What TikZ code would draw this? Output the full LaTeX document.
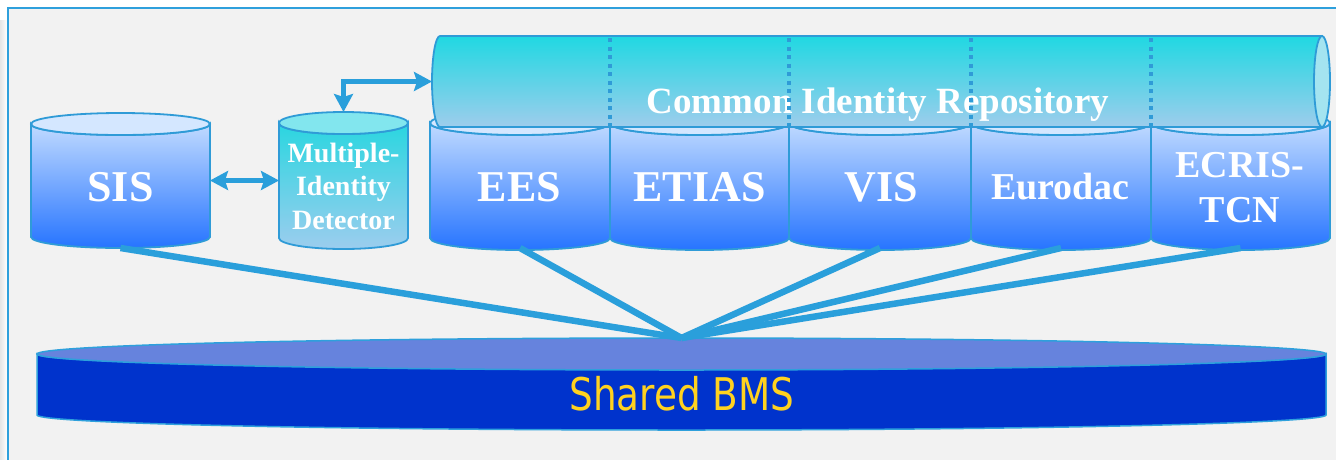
\documentclass[tikz,border=0pt]{standalone}
\usepackage{fontspec}
\usepackage{graphicx}
\setmainfont{Liberation Serif}
\newfontfamily\bmsfont{DejaVu Sans}
\usetikzlibrary{arrows.meta}
\definecolor{framebg}{HTML}{F2F2F2}
\definecolor{frameblue}{HTML}{2EA0DC}
\definecolor{cylstroke}{HTML}{2F9BD7}
\definecolor{connblue}{HTML}{2A9FDB}
\definecolor{bluetop}{HTML}{D4E7FF}
\definecolor{bluehi}{HTML}{C0DAFF}
\definecolor{bluelo}{HTML}{2674FF}
\definecolor{cyantop}{HTML}{82E6EE}
\definecolor{cyanhi}{HTML}{2AD6E0}
\definecolor{cyanlo}{HTML}{9CCDEE}
\definecolor{cirhi}{HTML}{20D8E2}
\definecolor{cirlo}{HTML}{9ECDEC}
\definecolor{circap}{HTML}{A4E4F0}
\definecolor{bmsbody}{HTML}{0033CC}
\definecolor{bmstop}{HTML}{6683DD}
\definecolor{bmsyellow}{HTML}{FFD21F}
\newcommand{\mycyl}[8]{%
  \pgfmathsetmacro{\myrx}{(#2-#1)/2}%
  \pgfmathsetmacro{\mycx}{(#1+#2)/2}%
  \path[cylline, top color=#7, bottom color=#8] (#1,#3) -- (#1,#4)
     arc[start angle=180, end angle=0, x radius=\myrx, y radius=#5] -- (#2,#3)
     arc[start angle=0, end angle=180, x radius=\myrx, y radius=#5] -- cycle;
  \path[cylline, fill=#6] (\mycx,#3) ellipse[x radius=\myrx, y radius=#5];
}
\begin{document}
\begin{tikzpicture}[x=1pt,y=-1pt,
  cylline/.style={draw=cylstroke, line width=1.8pt},
  box/.style={inner sep=0pt, outer sep=0pt, draw=none, rectangle},
  lbl/.style={text=white, font=\bfseries, inner sep=0pt, align=center},
  conn/.style={draw=connblue, line width=5pt,
     {Stealth[length=18pt,width=19pt,inset=3pt]}-{Stealth[length=18pt,width=19pt,inset=3pt]}},
  bmsline/.style={draw=connblue, line width=6.5pt}
]
\useasboundingbox (0,0) rectangle (1336,459);
\fill[white] (0,0) rectangle (1336,459);
\fill[left color=black!10, right color=white] (0,20) rectangle (7,459);
\fill[framebg] (8,8) rectangle (1340,463);
\draw[frameblue, line width=2pt] (8,463) -- (8,8) -- (1340,8);

% SIS and MID cylinders
\mycyl{31}{210}{124}{237}{11}{bluetop}{bluehi}{bluelo}
\mycyl{279}{408}{123}{238}{11}{cyantop}{cyanhi}{cyanlo}
\node[box, minimum width=179pt, minimum height=135pt] (sis) at (120.5,180.5) {};
\node[box, minimum width=129pt, minimum height=136pt] (mid) at (343.5,180) {};
\node[lbl, font=\fontsize{44}{48}\selectfont\bfseries] (sislabel) at (120.5,187.5) {SIS};
\node[lbl, font=\fontsize{28}{33.5}\selectfont\bfseries] (midlabel) at (343.5,186) {Multiple-\\Identity\\Detector};

% lower cylinders
\mycyl{430}{610}{123}{238}{12}{bluetop}{bluehi}{bluelo}
\mycyl{610}{789}{123}{238}{12}{bluetop}{bluehi}{bluelo}
\mycyl{789}{971}{123}{238}{12}{bluetop}{bluehi}{bluelo}
\mycyl{971}{1151}{123}{238}{12}{bluetop}{bluehi}{bluelo}
\mycyl{1151}{1330}{123}{238}{12}{bluetop}{bluehi}{bluelo}
\node[box, minimum width=180pt, minimum height=135pt] (ees) at (520,180.5) {};
\node[box, minimum width=179pt, minimum height=135pt] (etias) at (699.5,180.5) {};
\node[box, minimum width=182pt, minimum height=135pt] (vis) at (880,180.5) {};
\node[box, minimum width=180pt, minimum height=135pt] (eurodac) at (1061,180.5) {};
\node[box, minimum width=179pt, minimum height=135pt] (ecris) at (1240.5,180.5) {};
\node[lbl, font=\fontsize{44}{48}\selectfont\bfseries] (eeslabel) at (519.5,187) {EES};
\node[lbl, font=\fontsize{44}{48}\selectfont\bfseries] (etiaslabel) at (699.5,187) {ETIAS};
\node[lbl, font=\fontsize{44}{48}\selectfont\bfseries] (vislabel) at (881,187) {VIS};
\node[lbl, font=\fontsize{38}{45}\selectfont\bfseries] (eurodaclabel) at (1060.5,187) {Eurodac};
\node[lbl, font=\fontsize{38}{45}\selectfont\bfseries] (ecrislabel) at (1240,188) {ECRIS-\\TCN};

% Common Identity Repository (horizontal cylinder)
\path[cylline, top color=cirhi, bottom color=cirlo]
  (440,36) -- (1322,36) -- (1322,127) -- (440,127)
  arc[start angle=90, end angle=270, x radius=8, y radius=45.5] -- cycle;
\node[box, minimum width=898pt, minimum height=91pt] (cir) at (881,81.5) {};
\node[lbl, anchor=base, font=\fontsize{37}{44}\selectfont\bfseries] (cirlabel) at (878,113) {Common Identity Repository};
\foreach \dx in {610,789,971,1151}
  \draw[cylstroke, line width=4pt, dash pattern=on 4pt off 4.5pt] (\dx,38) -- (\dx,127);
\path[cylline, fill=circap] (1322,81.5) ellipse[x radius=8, y radius=45.5];

% Shared BMS
\path[draw=frameblue, line width=1.5pt, fill=bmsbody] (37,354) -- (37,415)
  arc[start angle=180, end angle=0, x radius=644.5, y radius=15] -- (1326,354)
  arc[start angle=0, end angle=180, x radius=644.5, y radius=15] -- cycle;
\path[draw=frameblue, line width=1.5pt, fill=bmstop] (681.5,354) ellipse[x radius=644.5, y radius=16];
\node[box, minimum width=1289pt, minimum height=92pt] (bms) at (681.5,384) {};
\node[anchor=base, inner sep=0pt, text=bmsyellow, font=\bmsfont\fontsize{45}{50}\selectfont] (bmslabel) at (682,410) {\scalebox{0.83}[1]{Shared BMS}};

% connectors
\draw[conn] (sis.east) -- (sis.east -| mid.west);
\draw[conn] (mid.north) |- (cir.west);
\foreach \s in {sis,ees,vis,eurodac,ecris}
  \draw[bmsline] (\s.south) -- (bms.north);
\end{tikzpicture}
\end{document}
